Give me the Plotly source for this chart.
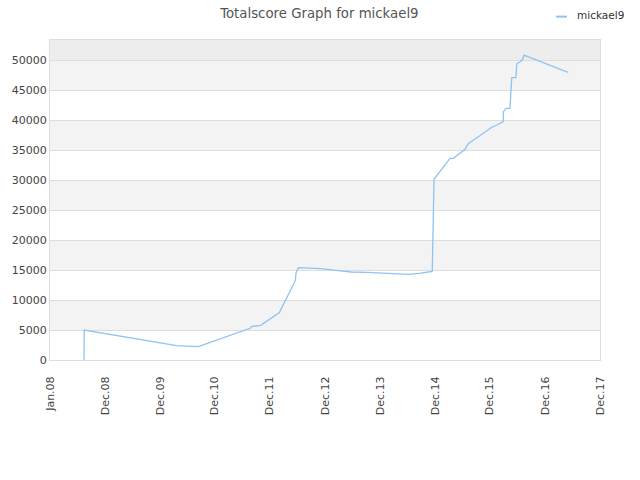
import plotly.graph_objects as go

dates = ["2008-08-14", "2008-08-15", "2010-04-21", "2010-07-14", "2010-09-12",
         "2011-08-26", "2011-08-30", "2011-10-31", "2012-03-03", "2012-06-17",
         "2012-06-21", "2012-07-07", "2012-08-27", "2012-12-04", "2013-03-14",
         "2013-06-22", "2013-10-06", "2014-01-13", "2014-04-23", "2014-07-12",
         "2014-09-16", "2014-11-22", "2014-12-13", "2014-12-14", "2014-12-25",
         "2015-04-10", "2015-05-02", "2015-07-19", "2015-08-10", "2015-10-15",
         "2016-01-12", "2016-02-14", "2016-03-29", "2016-03-30", "2016-04-16",
         "2016-05-12", "2016-05-17", "2016-05-24", "2016-06-21", "2016-06-26",
         "2016-07-18", "2016-08-05", "2016-08-13", "2017-06-03"]
scores = [0, 5000, 2390, 2220, 2220,
          5330, 5560, 5780, 7890, 13220,
          14440, 15390, 15330, 15220, 14940,
          14670, 14600, 14500, 14280, 14280,
          14440, 14610, 14780, 15830, 30110,
          33610, 33610, 35110, 36110, 37220,
          38780, 39170, 39720, 41390, 41940,
          41940, 45560, 47060, 47060, 49330,
          49720, 50110, 50830, 47940]

tick_vals = ["2008-01-01", "2008-12-31", "2009-12-31", "2010-12-31", "2011-12-31",
             "2012-12-31", "2013-12-31", "2014-12-31", "2015-12-31", "2016-12-31",
             "2017-12-31"]
tick_text = ["Jan.08", "Dec.08", "Dec.09", "Dec.10", "Dec.11", "Dec.12",
             "Dec.13", "Dec.14", "Dec.15", "Dec.16", "Dec.17"]
y_ticks = [0, 5000, 10000, 15000, 20000, 25000, 30000, 35000, 40000, 45000, 50000]
y_max = 53333
series_name = "mickael9"
title = "Totalscore Graph for mickael9"

fig = go.Figure()
fig.add_trace(go.Scatter(x=dates, y=scores, mode="lines", name=series_name,
                         line=dict(color="#90c2f3", width=1.3), showlegend=False,
                         hoverinfo="skip"))

shapes = []
for lo in range(5000, 50000, 10000):
    shapes.append(dict(type="rect", xref="paper", yref="y", x0=0, x1=1, y0=lo, y1=lo + 5000,
                       fillcolor="#f3f3f3", line=dict(width=0), layer="below"))
shapes.append(dict(type="rect", xref="paper", yref="y", x0=0, x1=1, y0=50000, y1=y_max,
                   fillcolor="#ededed", line=dict(width=0), layer="below"))
# legend sample
shapes.append(dict(type="line", xref="paper", yref="paper", x0=0.92, x1=0.94, y0=1.073, y1=1.073,
                   line=dict(color="#90c2f3", width=2)))

fig.update_layout(
    width=640, height=480,
    margin=dict(l=50, r=40, t=40, b=120, autoexpand=False),
    paper_bgcolor="white", plot_bgcolor="white",
    font=dict(family="DejaVu Sans", size=11, color="#444"),
    title=dict(text=title, x=0.499, xanchor="center", xref="container",
               y=0.972, yanchor="middle", yref="container",
               font=dict(size=13.3, color="#555")),
    shapes=shapes,
    hovermode=False,
    annotations=[dict(text=series_name, xref="paper", yref="paper", x=0.955, y=1.078,
                      xanchor="left", yanchor="middle", showarrow=False,
                      font=dict(size=10.5, color="#333"))],
    xaxis=dict(type="date", range=["2008-01-01", "2017-12-31"], tickvals=tick_vals,
               ticktext=tick_text, tickangle=-90, showgrid=False, zeroline=False,
               showline=True, linecolor="#dddddd", mirror=True, ticks="",
               automargin=False, ticklabelstandoff=11,
               tickfont=dict(size=11, color="#444")),
    yaxis=dict(range=[0, y_max], tickvals=y_ticks, tickformat="d", showgrid=True,
               gridcolor="#dddddd", zeroline=False, showline=True, linecolor="#dddddd",
               mirror=True, ticks="", automargin=False,
               tickfont=dict(size=11, color="#444")),
)

fig.write_html("out.html", config={"displayModeBar": False},
               post_script="document.body.style.margin='0';")
